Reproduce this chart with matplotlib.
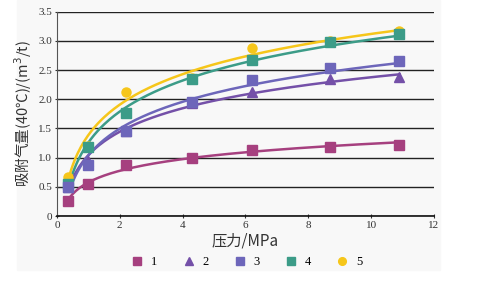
import matplotlib.pyplot as plt
import numpy as np
from matplotlib.patches import Rectangle

plt.rcParams['font.family'] = ['Liberation Serif', 'Noto Sans CJK SC']

# 压力 (MPa)
presion = np.array([0.35, 1.0, 2.2, 4.3, 6.2, 8.7, 10.9])

# 吸附气量 por muestra
s1 = [0.25, 0.55, 0.88, 1.00, 1.13, 1.18, 1.22]
s2 = [0.50, 0.95, 1.45, 1.93, 2.13, 2.35, 2.38]
s3 = [0.50, 0.88, 1.45, 1.95, 2.33, 2.53, 2.65]
s4 = [0.55, 1.18, 1.77, 2.35, 2.67, 2.98, 3.12]
s5 = [0.67, 1.20, 2.13, 2.36, 2.88, 3.00, 3.17]

series = [s1, s2, s3, s4, s5]
nombres = ['1', '2', '3', '4', '5']
colores = ['#a6407f', '#7450a8', '#6d66ba', '#3c9c88', '#f6c61a']
marcadores = ['s', '^', 's', 's', 'o']
orden = [1, 3, 4, 2, 0]  # zorder de dibujo

fig = plt.figure(figsize=(4.78, 2.88), dpi=100)
fig.patches.append(Rectangle((17 / 478, 18 / 288), 423 / 478, 270 / 288,
                             transform=fig.transFigure, color='#f8f8f8', zorder=-10))
ax = fig.add_axes([0.119, 0.25, 0.789, 0.709])
ax.set_facecolor('#f8f8f8')

# Curvas de ajuste logarítmico
x_fit = np.linspace(0.4, 10.9, 200)
for i, datos in enumerate(series):
    b, a = np.polyfit(np.log(presion), datos, 1)
    ax.plot(x_fit, a + b * np.log(x_fit), color=colores[i], lw=1.8, zorder=3 + orden[i])

# Puntos medidos
for i, datos in enumerate(series):
    ax.plot(presion, datos, marcadores[i], color=colores[i], ms=6.5, ls='none',
            label=nombres[i], zorder=10 + orden[i])

ax.set_xlim(0, 12)
ax.set_ylim(0, 3.5)
ax.set_xticks(np.arange(0, 13, 2))
ax.set_yticks(np.arange(0, 3.6, 0.5))
ax.set_yticklabels(['0'] + [f'{v:.1f}' for v in np.arange(0.5, 3.6, 0.5)])
ax.tick_params(labelsize=8, length=3, direction='inout', color='#333333',
               labelcolor='#333333', pad=2)
ax.yaxis.grid(True, color='#222222', lw=1.0)
ax.set_axisbelow(True)
for lado in ['top', 'right']:
    ax.spines[lado].set_visible(False)
ax.spines['left'].set_color('#555555')
ax.spines['bottom'].set_color('#111111')
ax.spines['bottom'].set_linewidth(1.2)

ax.set_xlabel('压力/MPa', fontsize=11, labelpad=2, color='#333333',
              family=['Noto Sans CJK SC', 'Liberation Serif'])
ax.set_ylabel('吸附气量(40℃)/(m$^3$/t)', fontsize=10.5, labelpad=3, color='#333333',
              family=['Noto Sans CJK SC', 'Liberation Serif'])

fig.legend(loc='lower center', bbox_to_anchor=(0.515, 0.03), ncol=5, frameon=False,
           fontsize=9, handletextpad=0.5, columnspacing=1.9, markerscale=0.85,
           handlelength=1.2)

fig.savefig('out.png', dpi=100)
